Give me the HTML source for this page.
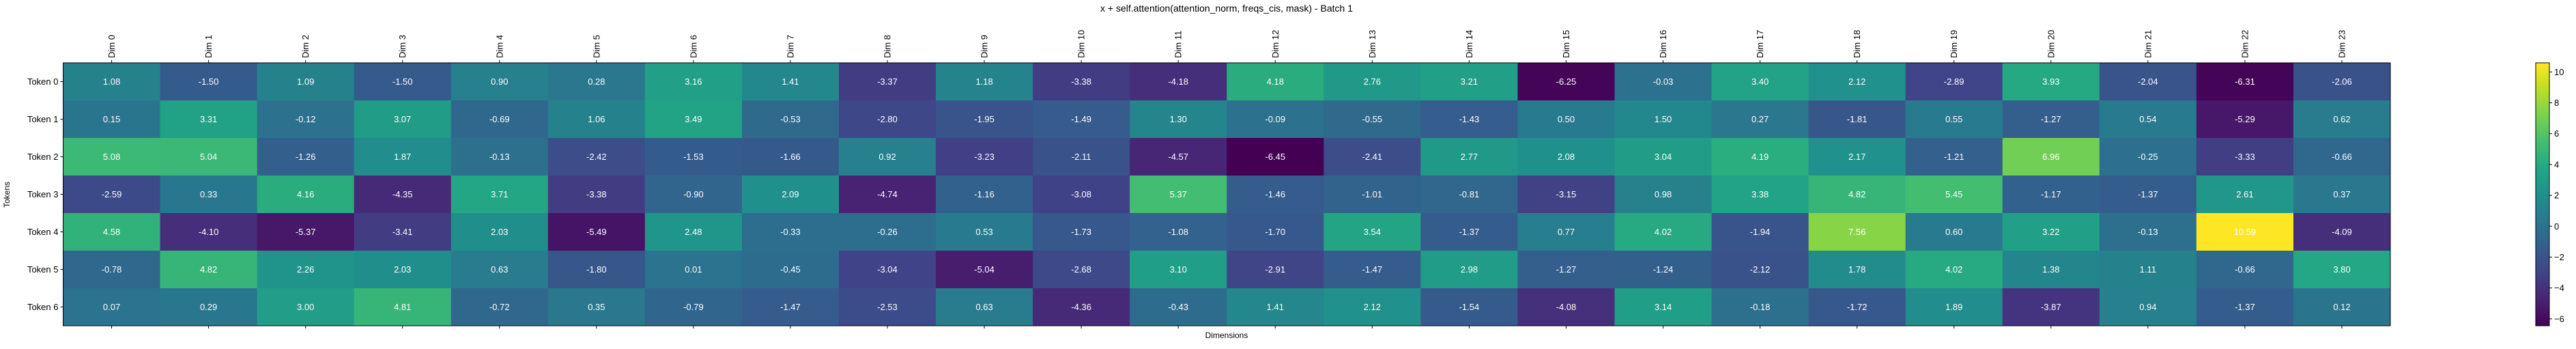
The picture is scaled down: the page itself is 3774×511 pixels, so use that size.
<!DOCTYPE html>
<html><head><meta charset="utf-8"><style>
body{margin:0;background:#fff;}
svg{display:block;font-family:"Liberation Sans","DejaVu Sans",sans-serif;}
</style></head><body>
<svg id="chart" width="3774" height="511" viewBox="0 0 3774 511" xmlns="http://www.w3.org/2000/svg">
<text x="1797" y="17" text-anchor="middle" font-size="14" fill="#000">x + self.attention(attention_norm, freqs_cis, mask) - Batch 1</text>
<text x="1797" y="495" text-anchor="middle" font-size="12" fill="#000">Dimensions</text>
<text x="14" y="285" text-anchor="middle" font-size="12" fill="#000" transform="rotate(-90 14 285)">Tokens</text>
<g id="cells"></g>
<g id="xticks"></g>
<g id="yticks"></g>
<defs><linearGradient id="vir" x1="0" y1="1" x2="0" y2="0"></linearGradient></defs>
<g id="cbar"></g>
</svg>
<script>
const rowLabels = ["Token 0","Token 1","Token 2","Token 3","Token 4","Token 5","Token 6"];
const colLabels = Array.from({length:24},(_,i)=>"Dim "+i);
const row0 = [1.08,-1.50,1.09,-1.50,0.90,0.28,3.16,1.41,-3.37,1.18,-3.38,-4.18,4.18,2.76,3.21,-6.25,-0.03,3.40,2.12,-2.89,3.93,-2.04,-6.31,-2.06];
const row1 = [0.15,3.31,-0.12,3.07,-0.69,1.06,3.49,-0.53,-2.80,-1.95,-1.49,1.30,-0.09,-0.55,-1.43,0.50,1.50,0.27,-1.81,0.55,-1.27,0.54,-5.29,0.62];
const row2 = [5.08,5.04,-1.26,1.87,-0.13,-2.42,-1.53,-1.66,0.92,-3.23,-2.11,-4.57,-6.45,-2.41,2.77,2.08,3.04,4.19,2.17,-1.21,6.96,-0.25,-3.33,-0.66];
const row3 = [-2.59,0.33,4.16,-4.35,3.71,-3.38,-0.90,2.09,-4.74,-1.16,-3.08,5.37,-1.46,-1.01,-0.81,-3.15,0.98,3.38,4.82,5.45,-1.17,-1.37,2.61,0.37];
const row4 = [4.58,-4.10,-5.37,-3.41,2.03,-5.49,2.48,-0.33,-0.26,0.53,-1.73,-1.08,-1.70,3.54,-1.37,0.77,4.02,-1.94,7.56,0.60,3.22,-0.13,10.59,-4.09];
const row5 = [-0.78,4.82,2.26,2.03,0.63,-1.80,0.01,-0.45,-3.04,-5.04,-2.68,3.10,-2.91,-1.47,2.98,-1.27,-1.24,-2.12,1.78,4.02,1.38,1.11,-0.66,3.80];
const row6 = [0.07,0.29,3.00,4.81,-0.72,0.35,-0.79,-1.47,-2.53,0.63,-4.36,-0.43,1.41,2.12,-1.54,-4.08,3.14,-0.18,-1.72,1.89,-3.87,0.94,-1.37,0.12];
const values = [row0,row1,row2,row3,row4,row5,row6];
const cbarTicks = [-6,-4,-2,0,2,4,6,8,10];

const NS="http://www.w3.org/2000/svg";
const L=92.5,T=92,R=3502,B=477;
const nC=colLabels.length,nR=rowLabels.length;
const cw=(R-L)/nC, rh=(B-T)/nR;
const flat=values.flat();
const vmin=Math.min(...flat), vmax=Math.max(...flat);
const xC=i=>L+(i+0.5)*cw, yC=j=>T+(j+0.5)*rh;
const vir=[[68,1,84],[72,35,116],[64,67,135],[52,94,141],[41,120,142],[32,144,140],[34,167,132],[68,190,112],[121,209,81],[189,222,38],[253,231,37]];
function color(v){let t=(v-vmin)/(vmax-vmin);t=Math.max(0,Math.min(1,t));const p=t*(vir.length-1);const i=Math.min(vir.length-2,Math.floor(p));const f=p-i;const c=vir[i].map((a,k)=>Math.round(a+(vir[i+1][k]-a)*f));return `rgb(${c})`;}
function mk(tag,attrs,parent){const e=document.createElementNS(NS,tag);for(const k in attrs)e.setAttribute(k,attrs[k]);parent.appendChild(e);return e;}
const cells=document.getElementById('cells');
values.forEach((row,j)=>row.forEach((v,i)=>{
  const r=mk('rect',{x:L+i*cw,y:T+j*rh,width:cw+0.5,height:rh+0.5,fill:color(v)},cells);
  
  
  const t=mk('text',{x:xC(i),y:yC(j)+4.5,'text-anchor':'middle','font-size':'13',fill:'#fff'},cells);
  t.textContent=v.toFixed(2);
  
  
}));
mk('rect',{x:L,y:T,width:R-L,height:B-T,fill:'none',stroke:'#000','stroke-width':1},cells);
const xt=document.getElementById('xticks');
colLabels.forEach((s,i)=>{
  mk('line',{x1:xC(i),x2:xC(i),y1:T,y2:T-4,stroke:'#000'},xt);
  mk('line',{x1:xC(i),x2:xC(i),y1:B,y2:B+4,stroke:'#000'},xt);
  const t=mk('text',{x:xC(i)+4.5,y:T-7,'font-size':'13',fill:'#000',transform:`rotate(-90 ${xC(i)+4.5} ${T-7})`},xt);
  t.textContent=s;
  
  
});
const yt=document.getElementById('yticks');
rowLabels.forEach((s,j)=>{
  mk('line',{x1:L,x2:L-4,y1:yC(j),y2:yC(j),stroke:'#000'},yt);
  const t=mk('text',{x:L-7,y:yC(j)+4.5,'text-anchor':'end','font-size':'13',fill:'#000'},yt);
  t.textContent=s;
  
  
});
const g=document.getElementById('vir');
vir.forEach((c,k)=>mk('stop',{offset:k/(vir.length-1),'stop-color':`rgb(${c})`},g));
const cb=document.getElementById('cbar');
const cx=3715,cwid=20;
const cy=v=>B-(v-vmin)/(vmax-vmin)*(B-T);
mk('rect',{x:cx,y:T,width:cwid,height:B-T,fill:'url(#vir)',stroke:'#000','stroke-width':1},cb);
cbarTicks.forEach(v=>{
  mk('line',{x1:cx+cwid,x2:cx+cwid+4,y1:cy(v),y2:cy(v),stroke:'#000'},cb);
  const t=mk('text',{x:cx+cwid+7,y:cy(v)+4.5,'font-size':'13',fill:'#000'},cb);
  t.textContent=String(v).replace('-','\u2212');
  
  
});
</script>
</body></html>
